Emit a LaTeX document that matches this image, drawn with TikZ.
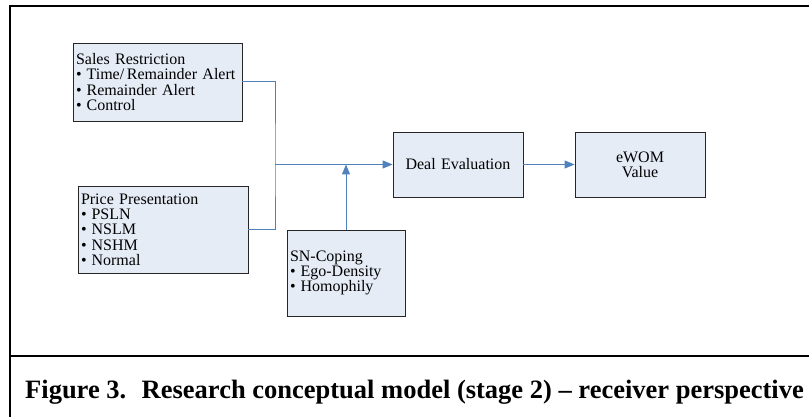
\documentclass[tikz,border=0pt]{standalone}
\usepackage{fontspec}
\setmainfont{Liberation Serif}
\usetikzlibrary{arrows.meta,shadows}
\definecolor{boxfill}{RGB}{230,236,246}
\definecolor{conncol}{RGB}{79,129,189}
\begin{document}
\begin{tikzpicture}[x=1pt,y=-1pt,
  box/.style={draw=black!85, fill=boxfill, line width=0.9pt, inner xsep=3pt, inner ysep=2pt,
    font=\fontsize{16}{15.3}\selectfont,
    drop shadow={shadow xshift=1pt,shadow yshift=-1.2pt,fill=black!40,opacity=1}},
  listbox/.style={box, align=left},
  midbox/.style={box, align=center},
  conn/.style={draw=conncol, line width=1pt},
  arr/.style={conn, -{Triangle[length=10pt,width=8pt]}, color=conncol},
  frameline/.style={line width=2.6pt, draw=black}]
\useasboundingbox (0,0) rectangle (809,417);
\fill[white] (0,0) rectangle (809,417);
\newcommand{\bul}{\textbullet\hspace{5pt}}
% frame
\draw[frameline] (10,417) -- (10,6) -- (809,6);
\draw[frameline] (10,356) -- (809,356);
% boxes
\node[listbox, minimum width=169pt, minimum height=78pt, text width=163pt] (sales) at (157.5,82)
  {Sales Restriction\\ \bul Time/\,Remainder Alert\\ \bul Remainder Alert\\ \bul Control};
\node[listbox, minimum width=170pt, minimum height=87pt, text width=164pt] (price) at (163,229.5)
  {Price Presentation\\ \bul PSLN\\ \bul NSLM\\ \bul NSHM\\ \bul Normal};
\node[listbox, minimum width=118pt, minimum height=86pt, text width=112pt] (sn) at (346,273)
  {SN-Coping\\ \bul Ego-Density\\ \bul Homophily};
\node[midbox, minimum width=130pt, minimum height=65pt, text width=124pt] (deal) at (458,164.5)
  {Deal Evaluation};
\node[midbox, minimum width=130pt, minimum height=65pt, text width=124pt] (ewom) at (640,164.5)
  {eWOM\\ Value};
% connectors
\coordinate (jx) at (275,164.5);
\draw[conn] (sales.east) -| (jx) |- (price.east);
\draw[arr] (jx) -- (deal.west);
\draw[arr] (sn.north) -- (sn.north |- deal.west);
\draw[arr] (deal.east) -- (ewom.west);
% caption
\node[anchor=base west, inner sep=0pt, font=\bfseries\fontsize{26.5}{30}\selectfont] (cap) at (25,398)
  {Figure 3.~ Research conceptual model (stage 2) – receiver perspective};
\end{tikzpicture}
\end{document}
